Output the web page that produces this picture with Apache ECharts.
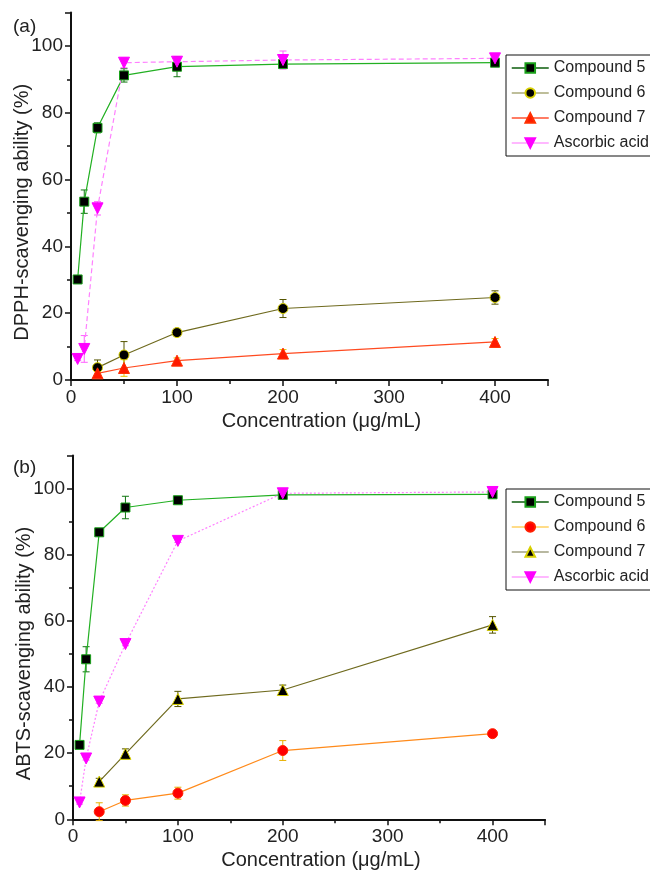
<!DOCTYPE html>
<html>
<head>
<meta charset="utf-8">
<script src="https://cdn.jsdelivr.net/npm/echarts@6/dist/echarts.min.js"></script>
<style>html,body{margin:0;padding:0;background:#fff;}#c{width:650px;height:873px;}</style>
</head>
<body>
<div id="c"></div>
<script>
// ---------- data ----------
const concAll = [6.25, 12.5, 25, 50, 100, 200, 400];
const concCmp = [25, 50, 100, 200, 400];
const seriesNames = ['Compound 5', 'Compound 6', 'Compound 7', 'Ascorbic acid'];
const xTicks = [0, 100, 200, 300, 400];
const yTicks = [0, 20, 40, 60, 80, 100];

// panel (a) DPPH
const dpph5 = [30.1, 53.4, 75.5, 91.2, 93.8, 94.6, 95.0];
const dpph5Err = [0.5, 3.5, 1.5, 2.0, 3.0, 1.0, 0.6];
const dpph6 = [3.7, 7.5, 14.2, 21.4, 24.7];
const dpph6Err = [2.3, 4.0, 1.0, 2.7, 2.0];
const dpph7 = [2.0, 3.6, 5.8, 7.9, 11.4];
const dpph7Err = [1.0, 2.5, 0.8, 1.2, 1.0];
const dpphAA = [6.3, 9.3, 51.4, 95.0, 95.3, 95.8, 96.3];
const dpphAAErr = [0.5, 4.0, 2.0, 1.5, 1.2, 2.7, 0.5];

// panel (b) ABTS
const abts5 = [22.5, 48.4, 86.8, 94.3, 96.5, 98.1, 98.3];
const abts5Err = [0.5, 3.8, 0.5, 3.4, 0.8, 0.5, 1.0];
const abts6 = [2.3, 5.7, 7.9, 20.8, 25.9];
const abts6Err = [2.7, 1.7, 1.8, 3.0, 0.5];
const abts7 = [11.4, 19.8, 36.4, 39.1, 58.8];
const abts7Err = [1.0, 1.5, 2.3, 1.5, 2.5];
const abtsAA = [5.1, 18.4, 35.6, 53.0, 84.2, 98.6, 99.0];
const abtsAAErr = [0.5, 0.5, 0.5, 0.5, 0.5, 0.5, 1.0];

// ---------- helpers ----------
const FONT = "'Liberation Sans', Arial, sans-serif";
const TXT = '#222';
const SUFFIX_B = ' (b)';
const pairs = (xs, ys) => xs.map((x, i) => [x, ys[i]]);
const triples = (xs, ys, es) => xs.map((x, i) => [x, ys[i], es[i]]);
const INV_TRI = 'path://M0,0L10,0L5,9Z';

function lineSeries(name, xs, ys, gi, sty) {
  return {
    type: 'line', name: name, xAxisIndex: gi, yAxisIndex: gi,
    data: pairs(xs, ys),
    symbol: sty.symbol, symbolSize: sty.size,
    itemStyle: { color: sty.fill, borderColor: sty.border, borderWidth: 1 },
    lineStyle: { color: sty.line, width: 1.2, type: sty.dash || 'solid' },
    emphasis: { disabled: true },
    animation: false, z: 3
  };
}
function errSeries(xs, ys, es, gi, color) {
  return {
    type: 'custom', xAxisIndex: gi, yAxisIndex: gi,
    data: triples(xs, ys, es), silent: true, animation: false, z: 2,
    renderItem: function (params, api) {
      const x = api.value(0), y = api.value(1), e = api.value(2);
      const top = api.coord([x, y + e]);
      const bot = api.coord([x, y - e]);
      const w = 3.5;
      const st = { stroke: color, lineWidth: 1 };
      return { type: 'group', children: [
        { type: 'line', shape: { x1: top[0], y1: top[1], x2: bot[0], y2: bot[1] }, style: st },
        { type: 'line', shape: { x1: top[0] - w, y1: top[1], x2: top[0] + w, y2: top[1] }, style: st },
        { type: 'line', shape: { x1: bot[0] - w, y1: bot[1], x2: bot[0] + w, y2: bot[1] }, style: st }
      ]};
    }
  };
}
function xAxis(gi) {
  return {
    type: 'value', gridIndex: gi, min: 0, max: 450, interval: 100,
    name: 'Concentration (\u03bcg/mL)', nameLocation: 'middle', nameGap: 31, nameMoveOverlap: false,
    nameTextStyle: { fontFamily: FONT, fontSize: 20, color: TXT, padding: [0, 0, 0, 24] },
    axisLine: { show: true, onZero: false, lineStyle: { color: '#111', width: 2 } },
    axisTick: { show: true, inside: false, length: 6, lineStyle: { color: '#111', width: 1.5 } },
    minorTick: { show: true, splitNumber: 2, length: 4, lineStyle: { color: '#111', width: 1.5 } },
    splitLine: { show: false },
    axisLabel: { fontFamily: FONT, fontSize: 19, color: TXT, margin: 8, showMaxLabel: false,
      formatter: v => xTicks.indexOf(v) >= 0 ? String(v) : '' }
  };
}
function yAxis(gi, name) {
  return {
    type: 'value', gridIndex: gi, min: 0, max: 110, interval: 20,
    name: name, nameLocation: 'middle', nameGap: 39, nameRotate: 90, nameMoveOverlap: false,
    nameTextStyle: { fontFamily: FONT, fontSize: 20, color: TXT, padding: [0, 32, 0, 0] },
    axisLine: { show: true, onZero: false, lineStyle: { color: '#111', width: 2 } },
    axisTick: { show: true, inside: false, length: 6, lineStyle: { color: '#111', width: 1.5 } },
    minorTick: { show: true, splitNumber: 2, length: 4, lineStyle: { color: '#111', width: 1.5 } },
    splitLine: { show: false },
    axisLabel: { fontFamily: FONT, fontSize: 19, color: TXT, margin: 8, showMaxLabel: false,
      formatter: v => yTicks.indexOf(v) >= 0 ? String(v) : '' }
  };
}
function legend(top, stys, suffix) {
  return {
    orient: 'vertical', left: 506, top: top,
    backgroundColor: '#fff', borderColor: '#111', borderWidth: 1,
    padding: [5, 6, 5, 5], itemGap: 9, itemWidth: 37, itemHeight: 12,
    selectedMode: false,
    textStyle: { fontFamily: FONT, fontSize: 16, color: TXT },
    formatter: n => n.replace(SUFFIX_B, ''),
    data: seriesNames.map((n, i) => ({
      name: n + suffix,
      lineStyle: { color: stys[i].legendLine, width: 1.5, type: 'solid' }
    }))
  };
}

// ---------- styles ----------
const stA = [
  { symbol: 'rect', size: 9, fill: '#000', border: '#1aa01a', line: '#22b022', legendLine: '#0b5d0b' },
  { symbol: 'circle', size: 10, fill: '#000', border: '#d8d000', line: '#6f6a1e', legendLine: '#a8a878' },
  { symbol: 'triangle', size: 11, fill: '#ff1a00', border: '#ff3000', line: '#ff4a20', legendLine: '#ff5030' },
  { symbol: INV_TRI, size: 11, fill: '#ff00ff', border: '#ff00ff', line: '#ff80ff', dash: [5, 3], legendLine: '#ffa0ff' }
];
const stB = [
  { symbol: 'rect', size: 9, fill: '#000', border: '#1aa01a', line: '#22b022', legendLine: '#0b5d0b' },
  { symbol: 'circle', size: 10, fill: '#ff0000', border: '#ff2000', line: '#ff8a1a', legendLine: '#ffd060' },
  { symbol: 'triangle', size: 11, fill: '#000', border: '#d8d000', line: '#6f6a1e', legendLine: '#a0a080' },
  { symbol: INV_TRI, size: 11, fill: '#ff00ff', border: '#ff00ff', line: '#ff80ff', dash: [2, 2], legendLine: '#ffa0ff' }
];

const series = [
  errSeries(concAll, dpph5, dpph5Err, 0, '#117711'),
  errSeries(concCmp, dpph6, dpph6Err, 0, '#555500'),
  errSeries(concCmp, dpph7, dpph7Err, 0, '#e8c000'),
  errSeries(concAll, dpphAA, dpphAAErr, 0, '#ff60ff'),
  lineSeries(seriesNames[0], concAll, dpph5, 0, stA[0]),
  lineSeries(seriesNames[1], concCmp, dpph6, 0, stA[1]),
  lineSeries(seriesNames[2], concCmp, dpph7, 0, stA[2]),
  lineSeries(seriesNames[3], concAll, dpphAA, 0, stA[3]),
  errSeries(concAll, abts5, abts5Err, 1, '#117711'),
  errSeries(concCmp, abts6, abts6Err, 1, '#e8b000'),
  errSeries(concCmp, abts7, abts7Err, 1, '#555500'),
  errSeries(concAll, abtsAA, abtsAAErr, 1, '#ff60ff'),
  lineSeries(seriesNames[0] + SUFFIX_B, concAll, abts5, 1, stB[0]),
  lineSeries(seriesNames[1] + SUFFIX_B, concCmp, abts6, 1, stB[1]),
  lineSeries(seriesNames[2] + SUFFIX_B, concCmp, abts7, 1, stB[2]),
  lineSeries(seriesNames[3] + SUFFIX_B, concAll, abtsAA, 1, stB[3])
];

const chart = echarts.init(document.getElementById('c'), null, { renderer: 'canvas' });
chart.setOption({
  backgroundColor: '#fff',
  animation: false,
  grid: [
    { left: 71, right: 102, top: 12.6, height: 367.4, outerBoundsMode: 'none', containLabel: false },
    { left: 73, right: 105, top: 455.6, height: 363.7, outerBoundsMode: 'none', containLabel: false }
  ],
  xAxis: [xAxis(0), xAxis(1)],
  yAxis: [yAxis(0, 'DPPH-scavenging ability (%)'), yAxis(1, 'ABTS-scavenging ability (%)')],
  legend: [legend(55, stA, ''), legend(489, stB, SUFFIX_B)],
  graphic: [
    { type: 'text', left: 13, top: 17, style: { text: '(a)', font: '19px ' + FONT, fill: TXT } },
    { type: 'text', left: 13, top: 458, style: { text: '(b)', font: '19px ' + FONT, fill: TXT } }
  ],
  series: series
});
</script>
</body>
</html>
